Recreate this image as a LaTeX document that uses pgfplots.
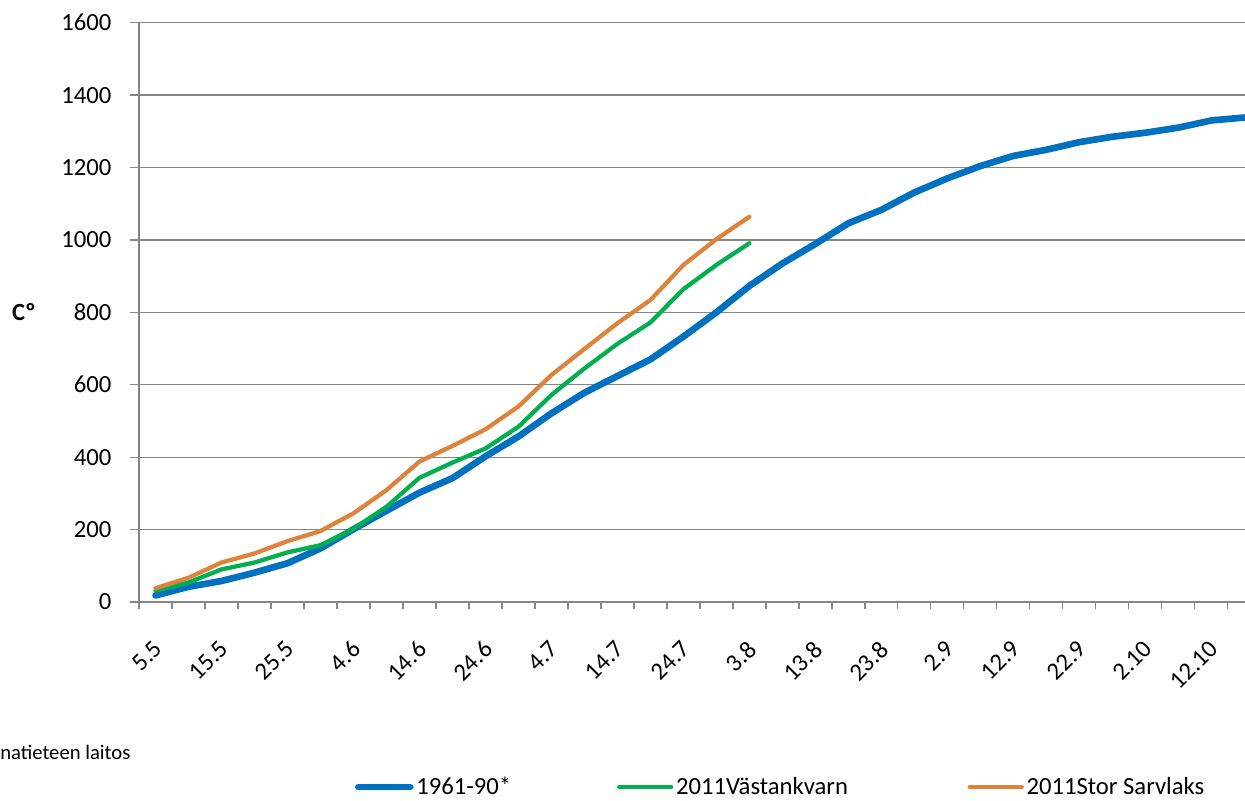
\documentclass[border=0pt]{standalone}
\usepackage{fontspec}
\setmainfont{Carlito}
\usepackage{pgfplots}
\pgfplotsset{compat=1.18}
\definecolor{cblue}{HTML}{0070C0}
\definecolor{cgreen}{HTML}{00B050}
\definecolor{corange}{HTML}{DE843A}
\definecolor{cgrid}{HTML}{868686}
\newcommand{\lblfont}{\fontsize{18.5}{20}\selectfont}

\begin{document}
\begin{tikzpicture}
\begin{axis}[
  name=ax,
  scale only axis, width=829.5pt, height=434.5pt,
  xmin=-0.5, xmax=33.02, ymin=0, ymax=1600,
  ytick={0,200,...,1600},
  xtick={0,2,...,32},
  xticklabels={5.5,15.5,25.5,4.6,14.6,24.6,4.7,14.7,24.7,3.8,13.8,23.8,2.9,12.9,22.9,2.10,12.10},
  minor xtick={-0.5,0.5,...,32.6},
  ymajorgrids,
  major grid style={cgrid, line width=0.9pt},
  axis x line*=bottom, axis y line*=left,
  axis line style={cgrid, line width=0.9pt, -},
  tick align=outside,
  major tick length=6.75pt, minor tick length=5.25pt,
  major x tick style={draw=none},
  minor x tick style={cgrid, line width=0.9pt},
  ytick style={cgrid, line width=0.9pt},
  tick label style={font=\lblfont, text=black},
  /pgf/number format/assume math mode=true,
  /pgf/number format/1000 sep={},
  yticklabel style={xshift=-10.5pt},
  xticklabel style={rotate=45, anchor=north east, inner sep=0pt, xshift=-3.5pt},
  xticklabel shift=18.5pt,
  ylabel={\textbf{Cº}},
  every axis y label/.style={at={(axis description cs:-0.104,0.5)}, anchor=center, font=\lblfont},
  legend columns=3,
  legend style={at={(axis description cs:0.195,-0.3194)}, anchor=west, draw=none, fill=none,
    inner sep=0pt, font=\lblfont,
    nodes={inner xsep=2pt, inner ysep=0pt},
    /tikz/column 2/.style={column sep=77.5pt},
    /tikz/column 4/.style={column sep=87.75pt}},
  legend image code/.code={\draw[#1] (0pt,0pt) -- (39pt,0pt);},
  every axis plot/.append style={line cap=round, line join=round},
]
\addplot[cblue, line width=5pt] coordinates {
 (0,18) (1,42) (2,58) (3,81) (4,107) (5,148) (6,201) (7,252) (8,302) (9,342)
 (10,402) (11,457) (12,521) (13,578) (14,624) (15,670) (16,733) (17,800) (18,873)
 (19,935) (20,989) (21,1046) (22,1083) (23,1131) (24,1170) (25,1204) (26,1232)
 (27,1249) (28,1270) (29,1285) (30,1296) (31,1310) (32,1330) (33,1338) };
\addlegendentry{1961-90*}
\addplot[cgreen, line width=3.2pt] coordinates {
 (0,31) (1,54) (2,90) (3,109) (4,137) (5,157) (6,202) (7,263) (8,343) (9,385)
 (10,424) (11,484) (12,572) (13,645) (14,713) (15,772) (16,864) (17,931) (18,991) };
\addlegendentry{2011Västankvarn}
\addplot[corange, line width=3.2pt] coordinates {
 (0,38) (1,67) (2,109) (3,134) (4,168) (5,196) (6,245) (7,309) (8,388) (9,431)
 (10,477) (11,540) (12,627) (13,699) (14,770) (15,834) (16,931) (17,1002) (18,1064) };
\addlegendentry{2011Stor Sarvlaks}
\end{axis}
\node[anchor=west, inner sep=0pt, font=\fontsize{15.5}{18}\selectfont]
  at ([xshift=-104.25pt, yshift=-112.5pt]ax.south west) {natieteen laitos};
\pgfresetboundingbox
\path ([xshift=-104.25pt, yshift=-148.5pt]ax.south west) rectangle ([xshift=829.5pt, yshift=451.5pt]ax.south west);
\end{tikzpicture}
\end{document}
